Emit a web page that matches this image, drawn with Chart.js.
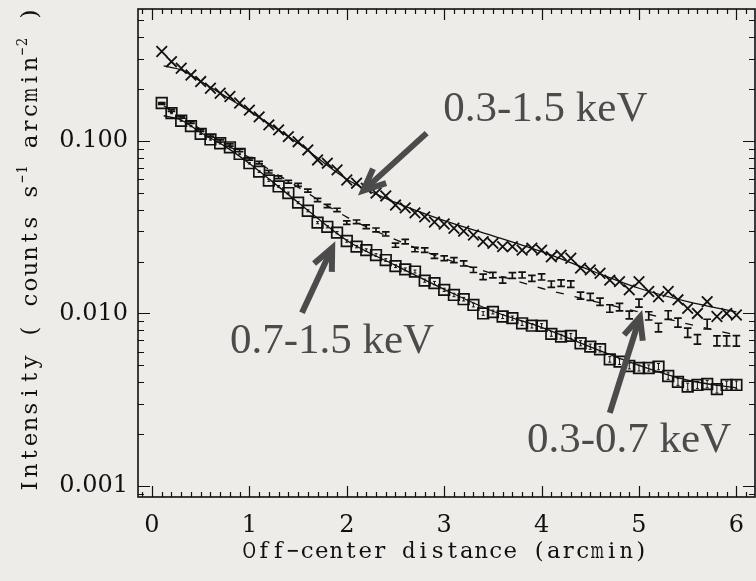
<!DOCTYPE html>
<html>
<head>
<meta charset="utf-8">
<style>
  html, body { margin: 0; padding: 0; background: #eeece8; }
  #wrap { width: 756px; height: 581px; }
</style>
<script src="https://cdn.jsdelivr.net/npm/chart.js@4.4.1/dist/chart.umd.min.js"></script>
</head>
<body>
<div id="wrap"><canvas id="profile" width="756" height="581"></canvas></div>
<script>
// Off-center distance of each annulus (arcmin)
const radii = [
  0.1, 0.2, 0.3, 0.4, 0.5, 0.6, 0.7, 0.8, 0.9, 1.0,
  1.1, 1.2, 1.3, 1.4, 1.5, 1.6, 1.7, 1.8, 1.9, 2.0,
  2.1, 2.2, 2.3, 2.4, 2.5, 2.6, 2.7, 2.8, 2.9, 3.0,
  3.1, 3.2, 3.3, 3.4, 3.5, 3.6, 3.7, 3.8, 3.9, 4.0,
  4.1, 4.2, 4.3, 4.4, 4.5, 4.6, 4.7, 4.8, 4.9, 5.0,
  5.1, 5.2, 5.3, 5.4, 5.5, 5.6, 5.7, 5.8, 5.9, 6.0
];

// 0.3-1.5 keV surface brightness (crosses)
const broadBand = [
  0.330, 0.288, 0.264, 0.241, 0.221, 0.202, 0.189, 0.181, 0.166, 0.151,
  0.138, 0.124, 0.116, 0.106, 0.099, 0.0887, 0.0776, 0.0743, 0.0680, 0.0594,
  0.0569, 0.0532, 0.0498, 0.0480, 0.0425, 0.0409, 0.0383, 0.0363, 0.0339, 0.0330,
  0.0312, 0.0300, 0.0285, 0.0261, 0.0255, 0.0244, 0.0244, 0.0233, 0.0239, 0.0233,
  0.0213, 0.0218, 0.0209, 0.0183, 0.0179, 0.0171, 0.0156, 0.0153, 0.0137, 0.0153,
  0.0134, 0.0125, 0.0134, 0.0120, 0.0107, 0.0100, 0.0117, 0.0096, 0.0100, 0.0098
];

// 0.7-1.5 keV surface brightness (squares)
const hardBand = [
  0.166, 0.145, 0.131, 0.122, 0.110, 0.102, 0.097, 0.0919, 0.0841, 0.0743,
  0.0664, 0.0590, 0.0545, 0.0499, 0.0439, 0.0394, 0.0336, 0.0318, 0.0294, 0.0263,
  0.0244, 0.0233, 0.0218, 0.0204, 0.0188, 0.0180, 0.0175, 0.0155, 0.0150, 0.0137,
  0.0128, 0.0121, 0.0112, 0.0100, 0.0102, 0.0096, 0.0094, 0.00877, 0.00849, 0.00847,
  0.00761, 0.00734, 0.00741, 0.00672, 0.00642, 0.00620, 0.00542, 0.00526, 0.00496, 0.00483,
  0.00483, 0.00492, 0.00434, 0.00401, 0.00377, 0.00385, 0.00390, 0.00364, 0.00385, 0.00385
];
const hardBandErrPct = [
  0.8, 0.8, 0.8, 0.9, 0.9, 0.9, 1.0, 1.0, 1.0, 1.1,
  1.1, 1.2, 1.2, 1.3, 1.3, 1.4, 1.4, 1.5, 1.5, 1.6,
  1.6, 1.7, 1.8, 1.8, 1.9, 2.0, 2.0, 2.1, 2.2, 2.2,
  2.3, 2.4, 2.5, 2.5, 2.6, 2.7, 2.8, 2.9, 3.0, 3.0,
  3.1, 3.2, 3.3, 3.4, 3.5, 3.6, 3.7, 3.8, 3.9, 4.0,
  4.1, 4.2, 4.4, 4.5, 4.6, 4.8, 4.9, 5.0, 5.2, 5.3
];

// 0.3-0.7 keV surface brightness (error bars)
const softBand = [
  0.165, 0.150, 0.137, 0.128, 0.115, 0.107, 0.100, 0.0948, 0.0879, 0.0787,
  0.0749, 0.0664, 0.0616, 0.0580, 0.0556, 0.0515, 0.0455, 0.0420, 0.0398, 0.0336,
  0.0340, 0.0318, 0.0305, 0.0289, 0.0249, 0.0261, 0.0235, 0.0233, 0.0215, 0.0209,
  0.0204, 0.0195, 0.0179, 0.0163, 0.0167, 0.0156, 0.0166, 0.0167, 0.0160, 0.0163,
  0.0148, 0.0150, 0.0148, 0.0127, 0.0125, 0.0117, 0.0107, 0.0109, 0.0098, 0.0115,
  0.0097, 0.0083, 0.0098, 0.00886, 0.00775, 0.00709, 0.00869, 0.00695, 0.00695, 0.00695
];
const softBandErrPct = [
  1.2, 1.2, 1.2, 1.3, 1.3, 1.4, 1.4, 1.5, 1.5, 1.6,
  1.7, 1.8, 1.8, 1.9, 2.0, 2.0, 2.1, 2.2, 2.3, 2.3,
  2.4, 2.5, 2.6, 2.7, 2.8, 2.9, 3.0, 3.0, 3.1, 3.2,
  3.3, 3.4, 3.5, 3.6, 3.7, 3.8, 3.8, 3.9, 4.0, 4.1,
  4.2, 4.3, 4.4, 4.6, 4.7, 4.8, 5.0, 5.0, 5.2, 5.3,
  5.5, 5.7, 5.8, 6.0, 6.2, 6.4, 6.5, 6.7, 6.8, 7.0
];

// Best-fit model profiles
const modelRadii = [0.12, 0.3, 0.5, 0.75, 1.0, 1.5, 2.0, 2.5, 3.0, 3.5, 4.0, 4.5, 5.0, 5.5, 6.0];
const broadModel = [0.272, 0.258, 0.222, 0.182, 0.149, 0.097, 0.060, 0.0440, 0.0345, 0.0282, 0.0228, 0.0178, 0.0140, 0.0117, 0.0102];
const hardModel  = [0.140, 0.132, 0.112, 0.093, 0.074, 0.044, 0.0265, 0.0190, 0.0138, 0.0103, 0.0083, 0.0064, 0.0050, 0.0041, 0.0037];
const softModel  = [0.160, 0.140, 0.117, 0.096, 0.080, 0.054, 0.0362, 0.0268, 0.0208, 0.0170, 0.0140, 0.0119, 0.0102, 0.0087, 0.0075];

// Axis tick labels
const xTickValues = [0, 1, 2, 3, 4, 5, 6];
const yTickValues = [0.001, 0.010, 0.100];

// Band annotations: label anchor (left, baseline) and arrow, in data units
const bandNotes = [
  { text: '0.3-1.5 keV', at: [2.99, 0.1306], tail: [2.82, 0.111], tip: [2.17, 0.0515] },
  { text: '0.7-1.5 keV', at: [0.80, 0.0059], tail: [1.54, 0.0101], tip: [1.85, 0.0240] },
  { text: '0.3-0.7 keV', at: [3.85, 0.001574], tail: [4.70, 0.00265], tip: [5.01, 0.00955] }
];

const pts = (xs, ys) => xs.map((x, i) => ({ x, y: ys[i] }));
const INK = '#111111';
const AXIS_FONT = '"DejaVu Serif", serif';

// Paper background
const paper = {
  id: 'paper',
  beforeDraw(chart) {
    const { ctx, width, height } = chart;
    ctx.save();
    ctx.fillStyle = '#eeece8';
    ctx.fillRect(0, 0, width, height);
    ctx.restore();
  }
};

// Vertical error bars drawn through the scales
function drawErrorBars(chart, ys, pct, capHalf, lw) {
  const { ctx, scales: { x, y }, chartArea } = chart;
  ctx.save();
  ctx.beginPath();
  ctx.rect(chartArea.left, chartArea.top, chartArea.right - chartArea.left, chartArea.bottom - chartArea.top);
  ctx.clip();
  ctx.strokeStyle = INK;
  ctx.lineWidth = lw;
  ctx.beginPath();
  radii.forEach((r, i) => {
    const v = ys[i], e = v * pct[i] / 100;
    const px = x.getPixelForValue(r);
    const yt = y.getPixelForValue(v + e);
    const yb = y.getPixelForValue(v - e);
    ctx.moveTo(px, yt); ctx.lineTo(px, yb);
    ctx.moveTo(px - capHalf, yt); ctx.lineTo(px + capHalf, yt);
    ctx.moveTo(px - capHalf, yb); ctx.lineTo(px + capHalf, yb);
  });
  ctx.stroke();
  ctx.restore();
}

// Box frame with inward ticks on all four sides
const frame = {
  id: 'frame',
  afterDatasetsDraw(chart) {
    drawErrorBars(chart, hardBand, hardBandErrPct, 1.5, 1);
    drawErrorBars(chart, softBand, softBandErrPct, 3.8, 1.7);

    const { ctx, chartArea: { left, right, top, bottom }, scales: { x, y } } = chart;
    ctx.save();
    ctx.strokeStyle = INK;
    ctx.lineWidth = 1.2;
    ctx.beginPath();
    for (let k = -2; k <= 63; k++) {
      const v = k / 10;
      if (v < x.min || v > x.max) continue;
      const px = Math.round(x.getPixelForValue(v)) + 0.5;
      const len = k % 10 === 0 ? 11 : 5;
      ctx.moveTo(px, bottom); ctx.lineTo(px, bottom - len);
      ctx.moveTo(px, top); ctx.lineTo(px, top + len);
    }
    for (let e = -4; e <= 0; e++) {
      for (let m = 1; m <= 9; m++) {
        const v = m * Math.pow(10, e);
        if (v < y.min || v > y.max) continue;
        const py = Math.round(y.getPixelForValue(v)) + 0.5;
        const len = m === 1 ? 12 : 6;
        ctx.moveTo(left, py); ctx.lineTo(left + len, py);
        ctx.moveTo(right, py); ctx.lineTo(right - len, py);
      }
    }
    ctx.stroke();
    ctx.lineWidth = 1.6;
    ctx.strokeRect(left, top, right - left, bottom - top);
    ctx.restore();
  }
};

// Evenly spaced (typewriter style) axis titles
function drawSpaced(ctx, parts, cx, baseline, cell, supCell) {
  let total = 0;
  parts.forEach(p => { total += p.text.length * (p.sup ? supCell : cell); });
  let u = cx - total / 2;
  ctx.textAlign = 'center';
  ctx.textBaseline = 'alphabetic';
  parts.forEach(p => {
    const w = p.sup ? supCell : cell;
    ctx.font = p.sup ? '15px ' + AXIS_FONT : '23px ' + AXIS_FONT;
    for (const ch of p.text) {
      if (ch !== ' ') ctx.fillText(ch, u + w / 2, baseline - (p.sup ? 10 : 0), w - 1);
      u += w;
    }
  });
}

const titles = {
  id: 'titles',
  afterDraw(chart) {
    const { ctx } = chart;
    ctx.save();
    ctx.fillStyle = INK;
    drawSpaced(ctx, [{ text: 'Off\u2212center distance (arcmin)' }], 445, 558, 14.5, 9);
    ctx.translate(37, 250);
    ctx.rotate(-Math.PI / 2);
    drawSpaced(ctx, [
      { text: 'Intensity ( counts s' },
      { text: '\u22121', sup: true },
      { text: ' arcmin' },
      { text: '\u22122', sup: true },
      { text: ' )' }
    ], 0, 0, 15.5, 9.5);
    ctx.restore();
  }
};

// Band labels with arrows
const notes = {
  id: 'notes',
  afterDraw(chart) {
    const { ctx, scales: { x, y } } = chart;
    ctx.save();
    const grey = '#4b4b4b';
    ctx.fillStyle = grey;
    ctx.strokeStyle = grey;
    ctx.font = '43px "Liberation Serif", serif';
    ctx.textAlign = 'left';
    ctx.textBaseline = 'alphabetic';
    bandNotes.forEach(n => {
      ctx.fillText(n.text, x.getPixelForValue(n.at[0]), y.getPixelForValue(n.at[1]));
      const tx = x.getPixelForValue(n.tail[0]), ty = y.getPixelForValue(n.tail[1]);
      const hx = x.getPixelForValue(n.tip[0]), hy = y.getPixelForValue(n.tip[1]);
      const ang = Math.atan2(ty - hy, tx - hx);
      const wing = 24, spread = 0.42;
      ctx.lineWidth = 6;
      ctx.lineCap = 'butt';
      ctx.lineJoin = 'miter';
      ctx.beginPath();
      ctx.moveTo(tx, ty);
      ctx.lineTo(hx + Math.cos(ang) * 3, hy + Math.sin(ang) * 3);
      ctx.stroke();
      ctx.beginPath();
      ctx.moveTo(hx + Math.cos(ang + spread) * wing, hy + Math.sin(ang + spread) * wing);
      ctx.lineTo(hx, hy);
      ctx.lineTo(hx + Math.cos(ang - spread) * wing, hy + Math.sin(ang - spread) * wing);
      ctx.stroke();
    });
    ctx.restore();
  }
};

const modelLine = (xs, ys, dash) => ({
  data: pts(xs, ys),
  showLine: true,
  borderColor: INK,
  borderWidth: 1.3,
  borderDash: dash || [],
  pointRadius: 0,
  cubicInterpolationMode: 'monotone',
  fill: false
});

new Chart(document.getElementById('profile'), {
  type: 'scatter',
  data: {
    datasets: [
      modelLine(modelRadii, broadModel),
      modelLine(modelRadii, hardModel),
      modelLine(modelRadii, softModel, [8, 11]),
      {
        label: '0.3-1.5 keV',
        data: pts(radii, broadBand),
        pointStyle: 'crossRot',
        pointRadius: 7.5,
        borderColor: INK,
        borderWidth: 1.8,
        backgroundColor: 'rgba(0,0,0,0)'
      },
      {
        label: '0.7-1.5 keV',
        data: pts(radii, hardBand),
        pointStyle: 'rect',
        pointRadius: 7.5,
        borderColor: INK,
        borderWidth: 1.7,
        backgroundColor: 'rgba(0,0,0,0)'
      },
      {
        label: '0.3-0.7 keV',
        data: pts(radii, softBand),
        pointRadius: 0
      }
    ]
  },
  options: {
    responsive: false,
    devicePixelRatio: 1,
    animation: false,
    layout: { autoPadding: false, padding: { top: 9, right: 1, left: 0, bottom: 0 } },
    plugins: { legend: { display: false }, tooltip: { enabled: false } },
    scales: {
      x: {
        type: 'linear',
        min: -0.1437,
        max: 6.191,
        grid: { display: false, drawTicks: false },
        border: { display: false },
        ticks: { color: INK, font: { family: AXIS_FONT, size: 24 }, padding: 14 },
        afterBuildTicks: s => { s.ticks = xTickValues.map(v => ({ value: v })); },
        afterFit: s => { s.height = 84; s.paddingLeft = 0; s.paddingRight = 0; }
      },
      y: {
        type: 'logarithmic',
        min: 0.000863,
        max: 0.582,
        grid: { display: false, drawTicks: false },
        border: { display: false },
        ticks: {
          color: INK,
          font: { family: AXIS_FONT, size: 24 },
          padding: 10,
          callback: v => Number(v).toFixed(3)
        },
        afterBuildTicks: s => { s.ticks = yTickValues.map(v => ({ value: v })); },
        afterFit: s => { s.width = 138; s.paddingTop = 0; s.paddingBottom = 0; }
      }
    }
  },
  plugins: [paper, frame, titles, notes]
});
</script>
</body>
</html>
